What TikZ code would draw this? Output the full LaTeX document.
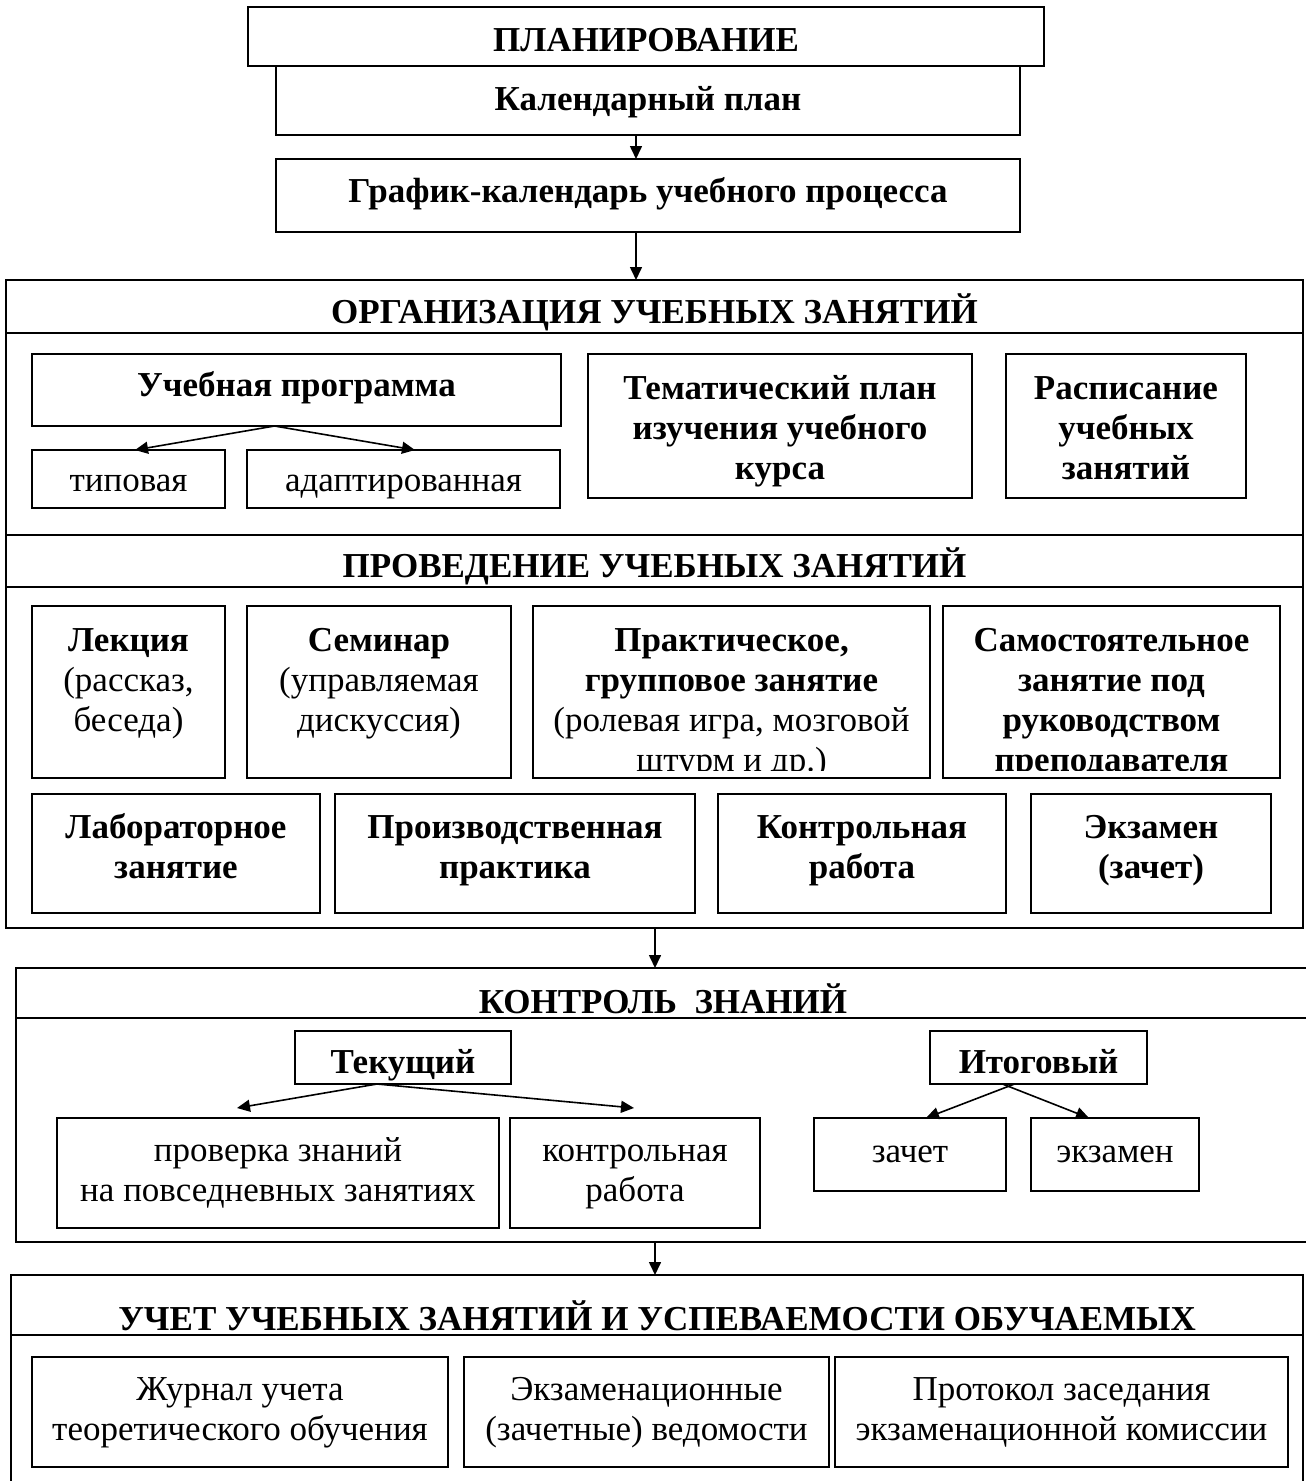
\documentclass[tikz,border=0pt]{standalone}
\usepackage{fontspec}
\setmainfont{Liberation Serif}
\usetikzlibrary{arrows.meta,positioning}

\begin{document}
\begin{tikzpicture}[
  x=1pt, y=-1pt,
  box/.style={rectangle, draw=black, line width=1.8pt, align=center, inner sep=0pt, outer sep=0pt, font=\fontsize{35}{40}\selectfont\bfseries},
  plainbox/.style={box, font=\fontsize{35}{40}\selectfont},
  tline/.style={text height=#1, text depth=0pt},
  frame/.style={rectangle, draw=black, line width=1.8pt, inner sep=0pt, outer sep=0pt},
  celltext/.style={align=center, inner sep=0pt, font=\fontsize{35}{40}\selectfont},
  arrow/.style={-{Triangle[length=13pt, width=12pt]}, line width=1.6pt, draw=black}
]
\useasboundingbox (0,0) rectangle (1306,1481);
\coordinate (axtop) at (636,0);
\coordinate (axlow) at (655,0);

% planning
\node[box, tline=29pt, minimum width=796pt, minimum height=59pt] (plan) at (646,36.5) {ПЛАНИРОВАНИЕ};
\node[box, tline=19pt, minimum width=744pt, minimum height=69pt] (kal) at (648,100.5) {Календарный план};
\node[box, tline=13pt, minimum width=744pt, minimum height=73pt] (graf) at (648,195.5) {График-календарь учебного процесса};

% organisation
\node[frame, minimum width=1297pt, minimum height=255pt] (orgframe) at (654.5,407.5) {};
\node[box, tline=33pt, minimum width=1297pt, minimum height=53pt] (orghead) at (654.5,306.5) {ОРГАНИЗАЦИЯ УЧЕБНЫХ ЗАНЯТИЙ};
\node[box, tline=12pt, minimum width=529pt, minimum height=72pt] (uchprog) at (296.5,390) {Учебная программа};
\node[plainbox, tline=24pt, minimum width=193pt, minimum height=58pt] (tip) at (128.5,479) {типовая};
\node[plainbox, tline=24pt, minimum width=313pt, minimum height=58pt] (adapt) at (403.5,479) {адаптированная};
\node[box, minimum width=384pt, minimum height=144pt] (tema) at (780,426) {\rule{0pt}{38pt}Тематический план\\изучения учебного\\курса\strut};
\node[box, minimum width=240pt, minimum height=144pt] (rasp) at (1126,426) {\rule{0pt}{38pt}Расписание\\учебных\\занятий\strut};

% conducting
\node[frame, minimum width=1297pt, minimum height=393pt] (provframe) at (654.5,731.5) {};
\node[box, tline=32pt, minimum width=1297pt, minimum height=52pt] (provhead) at (654.5,561) {ПРОВЕДЕНИЕ УЧЕБНЫХ ЗАНЯТИЙ};
\node[box, minimum width=193pt, minimum height=172pt] (lek) at (128.5,692) {};
\node[box, minimum width=264pt, minimum height=172pt] (sem) at (379,692) {};
\node[box, minimum width=397pt, minimum height=172pt] (prak) at (731.5,692) {};
\node[box, minimum width=337pt, minimum height=172pt] (sam) at (1111.5,692) {};
\node[celltext, below=17pt of lek.north] (lektext) {\strut\textbf{Лекция}\\(рассказ,\\беседа)};
\node[celltext, below=17pt of sem.north] (semtext) {\strut\textbf{Семинар}\\(управляемая\\дискуссия)};
\begin{scope}
  \clip ([yshift=8pt]prak.south west) rectangle (prak.north east);
  \node[celltext, below=17pt of prak.north] (praktext) {\strut\textbf{Практическое,}\\\textbf{групповое занятие}\\(ролевая игра, мозговой\\штурм и др.)};
\end{scope}
\begin{scope}
  \clip ([yshift=8pt]sam.south west) rectangle (sam.north east);
  \node[celltext, font=\fontsize{35}{40}\selectfont\bfseries, below=17pt of sam.north] (samtext) {\strut Самостоятельное\\занятие под\\руководством\\преподавателя};
\end{scope}
\node[box, minimum width=288pt, minimum height=119pt] (lab) at (176,853.5) {\strut Лабораторное\\занятие\rule[-19pt]{0pt}{19pt}};
\node[box, minimum width=360pt, minimum height=119pt] (proizv) at (515,853.5) {\strut Производственная\\практика\rule[-19pt]{0pt}{19pt}};
\node[box, minimum width=288pt, minimum height=119pt] (kontr) at (862,853.5) {\strut Контрольная\\работа\rule[-19pt]{0pt}{19pt}};
\node[box, minimum width=240pt, minimum height=119pt] (ekz) at (1151,853.5) {\strut Экзамен\\(зачет)\rule[-19pt]{0pt}{19pt}};

% control
\node[frame, minimum width=1294pt, minimum height=274pt] (konframe) at (663,1105) {};
\node[box, tline=40pt, minimum width=1294pt, minimum height=50pt] (konhead) at (663,993) {КОНТРОЛЬ~~ЗНАНИЙ};
\node[box, tline=31pt, minimum width=216pt, minimum height=53pt] (tek) at (403,1057.5) {Текущий};
\node[plainbox, minimum width=442pt, minimum height=110pt] (provz) at (278,1173) {\strut проверка знаний\\на повседневных занятиях\strut};
\node[plainbox, minimum width=250pt, minimum height=110pt] (kr) at (635,1173) {\strut контрольная\\работа\strut};
\node[box, tline=31pt, minimum width=217pt, minimum height=53pt] (itog) at (1038.5,1057.5) {Итоговый};
\node[plainbox, tline=15pt, minimum width=192pt, minimum height=73pt] (zach) at (910,1154.5) {зачет};
\node[plainbox, tline=15pt, minimum width=168pt, minimum height=73pt] (ekzam) at (1115,1154.5) {экзамен};

% records
\node[frame, minimum width=1292pt, minimum height=215pt] (uchframe) at (657,1382.5) {};
\node[box, tline=50pt, minimum width=1292pt, minimum height=60pt] (uchhead) at (657,1305) {УЧЕТ УЧЕБНЫХ ЗАНЯТИЙ И УСПЕВАЕМОСТИ ОБУЧАЕМЫХ};
\node[plainbox, minimum width=416pt, minimum height=110pt] (zhur) at (240,1412) {\strut Журнал учета\\теоретического обучения\strut};
\node[plainbox, minimum width=365pt, minimum height=110pt] (vedom) at (646.5,1412) {\strut Экзаменационные\\(зачетные) ведомости\strut};
\node[plainbox, minimum width=453pt, minimum height=110pt] (protok) at (1061.5,1412) {\strut Протокол заседания\\экзаменационной комиссии\strut};

% arrows
\draw[arrow] (kal.south -| axtop) -- (graf.north -| axtop);
\draw[arrow] (graf.south -| axtop) -- (orghead.north -| axtop);
\draw[arrow] (provframe.south -| axlow) -- (konhead.north -| axlow);
\draw[arrow] (konframe.south -| axlow) -- (uchhead.north -| axlow);
\draw[arrow] ([xshift=-22pt]uchprog.south) -- ([xshift=6.5pt]tip.north);
\draw[arrow] ([xshift=-22pt]uchprog.south) -- ([xshift=11.5pt]adapt.north);
\draw[arrow] ([xshift=-26pt]tek.south) -- ([xshift=-41pt, yshift=10pt]provz.north);
\draw[arrow] ([xshift=-26pt]tek.south) -- ([xshift=-1pt, yshift=10pt]kr.north);
\draw[arrow] ([xshift=-24pt]itog.south) -- ([xshift=16pt]zach.north);
\draw[arrow] ([xshift=-36pt]itog.south) -- ([xshift=-26pt]ekzam.north);
\end{tikzpicture}
\end{document}
